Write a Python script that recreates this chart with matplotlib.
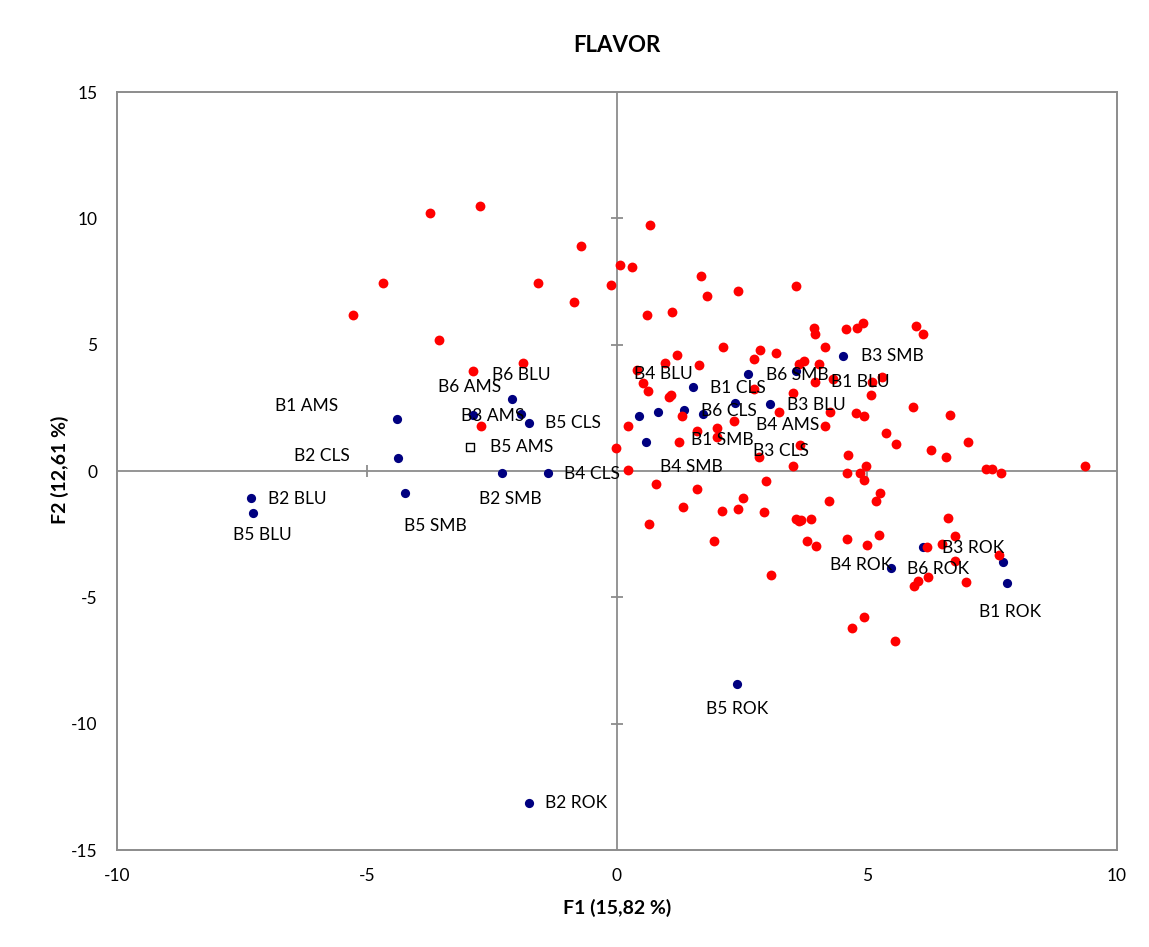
import matplotlib
matplotlib.use('Agg')
import matplotlib.pyplot as plt

plt.rcParams['font.family'] = ['Lato', 'DejaVu Sans']
plt.rcParams['axes.unicode_minus'] = False

# consumers (observations) - red dots
cons_x = [-3.74, -2.74, -0.72, -4.68, -1.58, 0.06, 0.30, -0.12, -0.86, -5.28,
          -3.56, -1.88, -2.88, 0.66, 1.68, 1.80, 2.42, 3.58, 0.60, 1.10,
          3.94, 3.96, 2.12, 2.86, 3.18, 4.16, 2.74, 1.20, 0.96, 1.64,
          3.64, 3.74, 4.04, 0.40, 0.52, 0.62, 1.04, 1.08, 2.74, 3.52,
          3.96, 4.32, 4.58, 4.80, 4.92, 5.98, 6.12, 5.30, 5.10, 5.08,
          3.24, 4.26, 1.30, 2.34, 4.78, 4.94, 5.92, 6.66, 0.22, 4.16,
          1.60, 2.00, 2.00, 1.24, -0.02, 3.66, 5.38, 5.58, 6.28, 6.58,
          4.62, 2.84, 3.52, 0.22, 4.60, 4.86, 4.98, 4.94, 0.78, 1.60,
          2.98, 7.02, 7.38, 7.50, 7.68, 9.36, 5.26, 5.18, 6.62, 5.24,
          5.00, 6.76, 6.20, 6.50, 7.64, 6.76, 2.52, 1.32, 2.10, 2.42,
          2.94, 4.24, 3.58, 3.64, 3.68, 3.88, 0.64, 1.94, 3.80, 3.98,
          4.60, 6.98, 6.22, 6.02, 5.94, 4.94, 4.70, 3.08, 5.56, -2.72]
cons_y = [10.21, 10.49, 8.90, 7.44, 7.44, 8.15, 8.07, 7.36, 6.69, 6.17,
          5.18, 4.27, 3.96, 9.73, 7.72, 6.92, 7.12, 7.32, 6.17, 6.29,
          5.66, 5.42, 4.91, 4.79, 4.67, 4.91, 4.43, 4.59, 4.27, 4.19,
          4.23, 4.35, 4.23, 4.00, 3.48, 3.17, 2.93, 3.01, 3.24, 3.09,
          3.52, 3.64, 5.62, 5.66, 5.86, 5.74, 5.42, 3.72, 3.52, 3.01,
          2.33, 2.33, 2.18, 1.98, 2.30, 2.18, 2.53, 2.22, 1.78, 1.78,
          1.58, 1.70, 1.35, 1.15, 0.91, 1.03, 1.50, 1.07, 0.83, 0.55,
          0.63, 0.55, 0.20, 0.04, -0.08, -0.08, 0.20, -0.36, -0.51, -0.71,
          -0.40, 1.15, 0.08, 0.08, -0.08, 0.20, -0.87, -1.19, -1.86, -2.53,
          -2.93, -2.57, -3.01, -2.89, -3.32, -3.56, -1.07, -1.42, -1.58, -1.50,
          -1.62, -1.19, -1.90, -1.98, -1.94, -1.90, -2.10, -2.77, -2.77, -2.97,
          -2.69, -4.39, -4.19, -4.35, -4.55, -5.78, -6.21, -4.12, -6.73, 1.78]

# products - dark blue dots
prod_names = ['B1 AMS', 'B2 CLS', 'B2 BLU', 'B5 BLU', 'B5 SMB', 'B6 AMS',
              'B6 BLU', 'B3 AMS', 'B5 CLS', 'B2 SMB', 'B4 CLS', 'B3 SMB',
              'B6 SMB', 'B1 BLU', 'B1 CLS', 'B4 BLU', 'B6 CLS', 'B3 BLU',
              'B3 CLS', 'B4 AMS', 'B1 SMB', 'B4 SMB', 'B4 ROK', 'B6 ROK',
              'B3 ROK', 'B1 ROK', 'B5 ROK', 'B2 ROK']
prod_x = [-4.40, -4.38, -7.32, -7.28, -4.24, -2.88, -2.10, -1.92, -1.76, -2.30,
          -1.38, 4.52, 2.62, 3.58, 1.52, 0.82, 1.34, 3.06, 1.72, 2.36,
          0.44, 0.58, 5.48, 6.12, 7.72, 7.80, 2.40, -1.76]
prod_y = [2.06, 0.51, -1.07, -1.66, -0.87, 2.22, 2.85, 2.26, 1.90, -0.08,
          -0.08, 4.55, 3.84, 3.96, 3.32, 2.33, 2.41, 2.65, 2.26, 2.69,
          2.18, 1.15, -3.84, -3.01, -3.60, -4.43, -8.43, -13.14]

# supplementary product - hollow square
sup_names = ['B5 AMS']
sup_x = [-2.94]
sup_y = [0.95]

# label offsets in pixels (right, down)
label_off = {
    'B1 AMS': (-90, -13), 'B2 CLS': (-76, -2), 'B2 BLU': (46, 1),
    'B5 BLU': (9, 22), 'B5 SMB': (30, 33), 'B6 AMS': (-3, -28),
    'B6 BLU': (9, -24), 'B3 AMS': (-28, 2), 'B5 CLS': (44, 0),
    'B5 AMS': (52, 0), 'B2 SMB': (8, 26), 'B4 CLS': (44, 1),
    'B3 SMB': (49, 0), 'B6 SMB': (49, 1), 'B1 BLU': (64, 11),
    'B1 CLS': (45, 1), 'B4 BLU': (5, -38), 'B6 CLS': (45, 1),
    'B3 BLU': (46, 1), 'B3 CLS': (78, 37), 'B4 AMS': (53, 22),
    'B1 SMB': (83, 24), 'B4 SMB': (45, 25), 'B4 ROK': (-30, -3),
    'B6 ROK': (15, 22), 'B3 ROK': (-30, -14), 'B1 ROK': (3, 29),
    'B5 ROK': (0, 25), 'B2 ROK': (47, 0),
}

gray = '#8c8c8c'
fs = 12.5

fig = plt.figure(figsize=(11.49, 9.47), dpi=100)
ax = fig.add_axes([0.1018, 0.1024, 0.8703, 0.8004])
ax.set_xlim(-10, 10)
ax.set_ylim(-15, 15)
xt = list(range(-10, 11, 5))
yt = list(range(-15, 16, 5))
ax.set_xticks(xt)
ax.set_yticks(yt)
ax.tick_params(axis='x', length=0, pad=13, labelsize=fs)
ax.tick_params(axis='y', length=0, pad=14, labelsize=fs)
for s in ax.spines.values():
    s.set_color(gray)
    s.set_linewidth(1.4)

# axes through the origin with cross ticks
ax.axhline(0, color=gray, lw=1.3, zorder=1)
ax.axvline(0, color=gray, lw=1.3, zorder=1)
inner_x = [v for v in xt if v not in (0, xt[0], xt[-1])]
inner_y = [v for v in yt if v not in (0, yt[0], yt[-1])]
ax.plot(inner_x, [0] * len(inner_x), ls='none', marker='|', ms=9, mew=1.3, color=gray, zorder=1)
ax.plot([0] * len(inner_y), inner_y, ls='none', marker='_', ms=9, mew=1.3, color=gray, zorder=1)

ax.scatter(prod_x, prod_y, s=44, color='#000080', linewidths=0, zorder=2)
ax.scatter(sup_x, sup_y, s=36, marker='s', facecolor='white', edgecolor='black', linewidths=1, zorder=2)
ax.scatter(cons_x, cons_y, s=50, color='#ff0000', linewidths=0, zorder=3)

for name, x, y in zip(prod_names + sup_names, prod_x + sup_x, prod_y + sup_y):
    dx, dy = label_off[name]
    ax.annotate(name, (x, y), xytext=(dx, -dy), textcoords='offset pixels',
                ha='center', va='center', fontsize=fs, zorder=4)

fig.text(617 / 1149, 1 - 45 / 947, 'FLAVOR', ha='center', va='center', fontsize=16, fontweight='bold')
fig.text(617 / 1149, 1 - 908 / 947, 'F1 (15,82 %)', ha='center', va='center', fontsize=14, fontweight='bold')
fig.text(60 / 1149, 1 - 470 / 947, 'F2 (12,61 %)', ha='center', va='center', rotation=90, fontsize=14, fontweight='bold')

fig.savefig('out.png', dpi=100)
